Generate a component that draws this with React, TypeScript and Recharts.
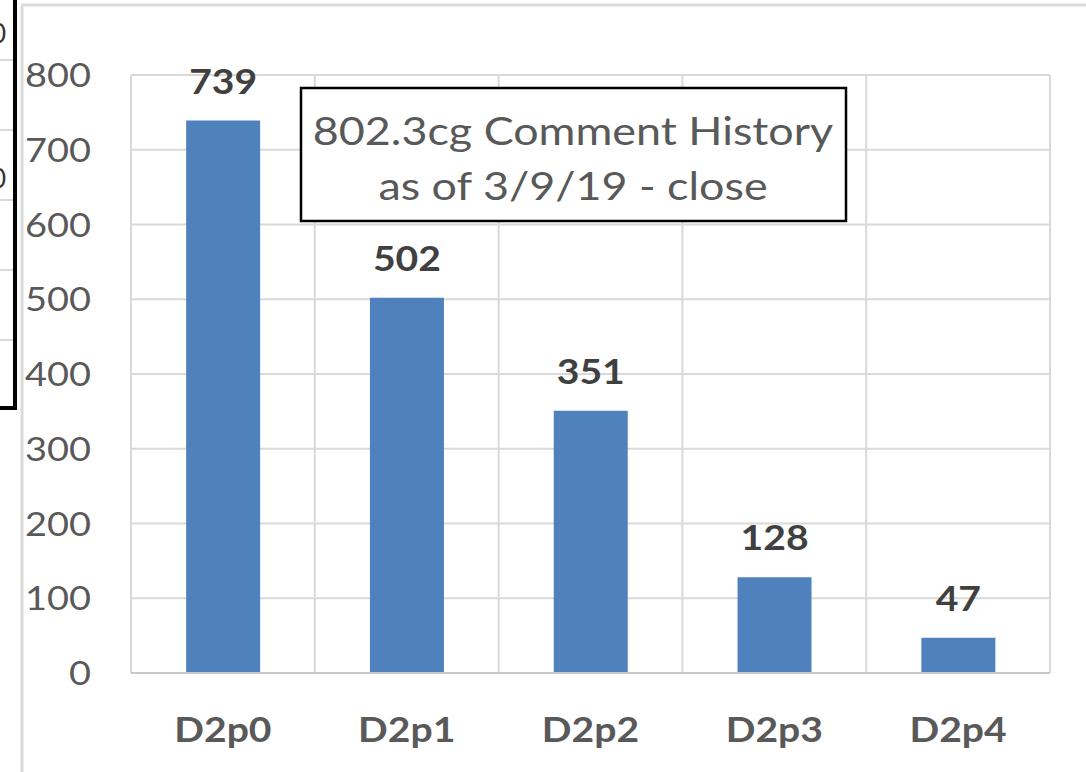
import React from 'react';
import { BarChart, Bar, XAxis, YAxis, CartesianGrid, LabelList } from 'recharts';

const categories = ['D2p0', 'D2p1', 'D2p2', 'D2p3', 'D2p4'];
const commentCounts = [739, 502, 351, 128, 47];
const yTicks = [0, 100, 200, 300, 400, 500, 600, 700, 800];
const titleLines = ['802.3cg Comment History', 'as of 3/9/19 - close'];

const data = categories.map((name, i) => ({ name, comments: commentCounts[i] }));

const FONT = 'Lato, "Open Sans", sans-serif';
const SX = 1.15; // source text is a bit stretched horizontally
const GRID = '#d9d9d9';

const SText = ({ x, y, anchor = 'middle', size, weight = 400, fill = '#595959', children }: any) => (
  <text
    transform={`translate(${x} ${y}) scale(${SX} 1)`}
    textAnchor={anchor}
    fontSize={size}
    fontWeight={weight}
    fill={fill}
    fontFamily={FONT}
  >
    {children}
  </text>
);

const YTick = ({ x, y, payload }: any) => (
  <SText x={x} y={y + 12} anchor="end" size={33}>{payload.value}</SText>
);

const XTick = ({ x, y, payload }: any) => (
  <SText x={x} y={y + 63} size={34} weight={700}>{payload.value}</SText>
);

const BarValue = ({ x, y, width, value }: any) => (
  <SText x={x + width / 2} y={y - 27} size={34} weight={700} fill="#404040">{value}</SText>
);

export default function App() {
  return (
    <div style={{ position: 'absolute', left: 0, top: 0, width: 1086, height: 772, background: '#fff' }}>
      {/* bits of the neighbouring sheet and the chart frame */}
      <svg width={1086} height={772} style={{ position: 'absolute', left: 0, top: 0 }}>
        {[60, 130, 200, 270, 340].map((yy) => (
          <line key={yy} x1={0} x2={14} y1={yy} y2={yy} stroke={GRID} strokeWidth={2} />
        ))}
        <text x={-9} y={43} fontSize={26} fill="#333" fontFamily={FONT}>0</text>
        <text x={-9} y={188} fontSize={26} fill="#333" fontFamily={FONT}>0</text>
        <line x1={15} x2={15} y1={0} y2={410} stroke="#000" strokeWidth={4} />
        <line x1={0} x2={17} y1={408} y2={408} stroke="#000" strokeWidth={4} />
        <line x1={22} x2={22} y1={6} y2={772} stroke={GRID} strokeWidth={3} />
        <line x1={21} x2={1086} y1={5} y2={5} stroke={GRID} strokeWidth={3} />
      </svg>

      <div style={{ position: 'absolute', left: 0, top: 0 }}>
        <BarChart
          width={1086}
          height={772}
          data={data}
          margin={{ top: 75, right: 36, bottom: 0, left: 0 }}
          barCategoryGap="30%"
        >
          <CartesianGrid
            stroke={GRID}
            strokeWidth={2}
            verticalCoordinatesGenerator={({ offset }: any) =>
              categories.map((_, i) => offset.left + (i * offset.width) / categories.length)
                .concat(offset.left + offset.width)
            }
          />
          <XAxis
            dataKey="name"
            height={99}
            tick={<XTick />}
            tickLine={false}
            tickMargin={0}
            axisLine={{ stroke: '#c8c8c8', strokeWidth: 2 }}
          />
          <YAxis
            width={131}
            domain={[0, 800]}
            ticks={yTicks}
            tick={<YTick />}
            tickLine={false}
            axisLine={false}
            tickMargin={34}
          />
          <Bar dataKey="comments" fill="#4f81bd" isAnimationActive={false}>
            <LabelList dataKey="comments" content={<BarValue />} />
          </Bar>
        </BarChart>
      </div>

      <svg width={1086} height={772} style={{ position: 'absolute', left: 0, top: 0, pointerEvents: 'none' }}>
        <rect x={301} y={88} width={545} height={133} fill="#fff" stroke="#000" strokeWidth={2.5} />
        <SText x={573} y={145} size={39}>{titleLines[0]}</SText>
        <SText x={573} y={200} size={39}>{titleLines[1]}</SText>
      </svg>
    </div>
  );
}
